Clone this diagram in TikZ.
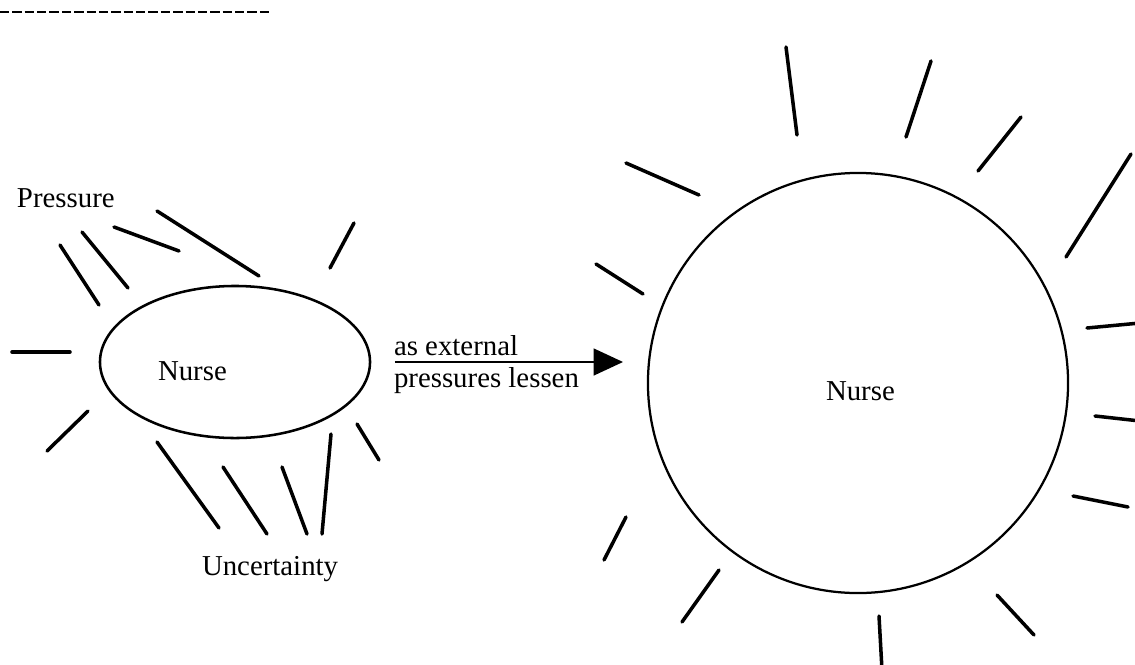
\documentclass[tikz,border=0pt]{standalone}
\usepackage{fontspec}
\setmainfont{Liberation Serif}
\usetikzlibrary{arrows.meta, shapes.geometric}

\begin{document}
\begin{tikzpicture}[x=0.025cm, y=-0.025cm, every node/.style={font=\fontsize{20.5}{24}\selectfont, inner sep=0pt, outer sep=0pt}, ray/.style={line width=2.5pt, line cap=round}, blob/.style={draw, ellipse}]
    \useasboundingbox (0,0) rectangle (1135,664);

        % Dashed rule.
        \draw[line width=2pt, dash pattern=on 6.6pt off 2.2pt] (0,12) -- (272,12);

        % Small nurse.
        \node[blob, line width=1.8pt, minimum width=6.75cm, minimum height=3.8cm] (nurseL) at (235,362) {};
        \node[anchor=base west] (nurseLTxt) at (158,380) {Nurse};
        \node[anchor=base west] (pressureTxt) at (17,207) {Pressure};
        \node[anchor=base west] (uncertTxt) at (202,575) {Uncertainty};

        % Rays round the small nurse.
        \foreach \a/\b/\c/\d in {60/245/99/305, 82/232/128/288, 114/227/179/251, 157/211/259/276, 354/223/330/268, 12/352/70/352, 88/411/47/451, 157/442/219/528, 223/467/267/534, 282/467/307/534, 331/434/322/534, 357/424/379/460}
            \draw[ray] (\a,\b) -- (\c,\d);

        % Large nurse.
        \node[draw, circle, line width=1.6pt, minimum size=10.5cm] (nurseR) at (858,383) {};
        \node[anchor=base west] (nurseRTxt) at (826,400) {Nurse};

        % Rays round the large nurse.
        \foreach \a/\b/\c/\d in {626/163/699/195, 596/264/643/294, 786/47/797/135, 931/61/906/137, 1021/117/978/171, 1131/154/1066/257, 1087/328/1140/323, 1095/416/1140/421, 1073/496/1128/507, 997/595/1034/635, 879/616/882/670, 719/570/682/622, 626/517/604/560}
            \draw[ray] (\a,\b) -- (\c,\d);

        % Arrow.
        \draw[-{Triangle[length=21pt, width=19pt]}, line width=1.9pt, shorten <=17.7pt, shorten >=17.7pt] (nurseL.east) -- (nurseL.east -| nurseR.west);
        \node[anchor=base west] (pushTopTxt) at (394,355) {as external};
        \node[anchor=base west] (pushBotTxt) at (394,387) {pressures lessen};

    \end{tikzpicture}
\end{document}
